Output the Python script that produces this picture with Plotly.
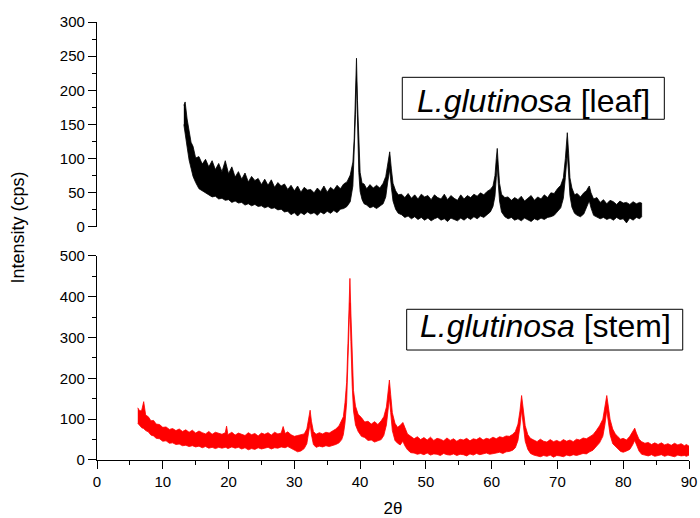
import plotly.graph_objects as go

# ---- L. glutinosa leaf: diffraction band (upper / lower edge of the noisy trace)
leaf_2theta = [13.2, 13.4, 13.7, 14.0, 14.3, 14.6, 15.0, 15.5, 16.0, 16.5, 17.0, 17.5, 18.0, 18.5,
               19.0, 19.5, 20.0, 20.5, 21.0, 21.5, 22.0, 22.5, 23.0, 23.5, 24.0, 24.5, 25.0, 25.5,
               26.0, 26.5, 27.0, 27.5, 28.0, 28.5, 29.0, 29.5, 30.0, 30.5, 31.0, 31.5, 32.0, 32.5,
               33.0, 33.5, 34.0, 34.5, 35.0, 35.5, 36.0, 36.5, 37.0, 37.5, 38.0, 38.5, 38.9, 39.1,
               39.3, 39.45, 39.6, 39.8, 40.0, 40.3, 40.6, 41.0, 41.5, 42.0, 42.5, 43.0, 43.5, 43.9,
               44.2, 44.5, 44.75, 45.0, 45.4, 45.8, 46.3, 46.8, 47.3, 47.8, 48.3, 48.8, 49.3, 49.8,
               50.3, 50.8, 51.3, 51.8, 52.3, 52.8, 53.3, 53.8, 54.3, 54.8, 55.3, 55.8, 56.3, 56.8,
               57.3, 57.8, 58.3, 58.8, 59.3, 59.8, 60.2, 60.5, 60.7, 60.85, 61.0, 61.2, 61.5, 62.0,
               62.5, 63.0, 63.5, 64.0, 64.5, 65.0, 65.5, 66.0, 66.5, 67.0, 67.5, 68.0, 68.5, 69.0,
               69.5, 70.0, 70.5, 70.9, 71.2, 71.5, 71.7, 71.9, 72.2, 72.6, 73.0, 73.5, 74.0, 74.4,
               74.7, 74.85, 75.1, 75.5, 76.0, 76.5, 77.0, 77.5, 78.0, 78.5, 79.0, 79.5, 80.0, 80.5,
               81.0, 81.5, 82.0, 82.5, 82.8]
leaf_high = [178, 183, 158, 141, 124, 118, 101, 103, 92, 99, 88, 97, 84, 93,
             81, 97, 78, 88, 73, 81, 70, 79, 66, 74, 68, 71, 62, 70,
             61, 69, 58, 65, 60, 63, 55, 61, 53, 60, 51, 58, 54, 55,
             50, 57, 52, 60, 51, 58, 54, 61, 56, 63, 66, 76, 95, 130,
             205, 247, 185, 115, 80, 64, 63, 56, 62, 57, 61, 57, 64, 74,
             96, 110, 85, 64, 53, 47, 48, 43, 49, 42, 47, 41, 48, 44,
             46, 40, 47, 43, 41, 48, 40, 46, 42, 39, 47, 41, 46, 43,
             48, 45, 50, 47, 52, 55, 60, 75, 100, 115, 92, 64, 48, 43,
             44, 39, 43, 40, 45, 38, 42, 46, 39, 44, 41, 47, 43, 50,
             49, 56, 61, 72, 100, 138, 108, 72, 57, 47, 49, 44, 50, 53,
             58, 60, 50, 41, 43, 36, 40, 34, 39, 37, 33, 38, 35, 36,
             33, 37, 34, 36, 35]
leaf_low = [150, 136, 117, 98, 86, 74, 65, 56, 53, 49, 47, 44, 45, 41,
            42, 39, 40, 36, 38, 35, 36, 32, 34, 31, 33, 30, 31, 28,
            30, 27, 28, 25, 26, 22, 23, 18, 21, 16, 21, 18, 22, 19,
            21, 17, 22, 19, 23, 20, 24, 21, 26, 27, 30, 37, 60, 95,
            165, 215, 150, 80, 52, 40, 34, 32, 28, 30, 27, 31, 34, 44,
            66, 84, 58, 38, 26, 20, 18, 14, 16, 12, 15, 11, 14, 10,
            13, 9, 12, 14, 10, 12, 8, 13, 11, 9, 13, 10, 14, 11,
            15, 12, 16, 14, 18, 22, 30, 45, 72, 90, 64, 38, 22, 15,
            12, 14, 10, 12, 9, 13, 10, 8, 12, 10, 13, 11, 14, 15,
            17, 22, 28, 42, 72, 108, 78, 46, 29, 20, 17, 15, 19, 27,
            35, 38, 28, 17, 14, 12, 14, 11, 13, 10, 14, 11, 12, 6,
            13, 10, 14, 12, 15]

# ---- L. glutinosa stem
stem_2theta = [6.2, 6.5, 6.8, 7.1, 7.4, 7.8, 8.2, 8.6, 9.0, 9.5, 10.0, 10.5, 11.0, 11.5,
               12.0, 12.5, 13.0, 13.5, 14.0, 14.5, 15.0, 15.5, 16.0, 16.5, 17.0, 17.5, 18.0, 18.5,
               19.0, 19.5, 19.7, 19.9, 20.5, 21.0, 21.5, 22.0, 22.5, 23.0, 23.5, 24.0, 24.5, 25.0,
               25.5, 26.0, 26.5, 27.0, 27.5, 28.0, 28.3, 28.6, 29.0, 29.5, 30.0, 30.5, 31.0, 31.5,
               31.9, 32.2, 32.4, 32.6, 32.9, 33.3, 33.8, 34.3, 34.8, 35.3, 35.8, 36.3, 36.8, 37.2,
               37.45, 37.7, 37.95, 38.15, 38.35, 38.45, 38.6, 38.8, 39.0, 39.3, 39.7, 40.2, 40.7, 41.2,
               41.7, 42.2, 42.7, 43.2, 43.6, 44.0, 44.3, 44.45, 44.65, 44.9, 45.3, 45.7, 46.1, 46.5,
               46.8, 47.2, 47.7, 48.2, 48.7, 49.2, 49.7, 50.2, 50.7, 51.2, 51.7, 52.2, 52.7, 53.2,
               53.7, 54.2, 54.7, 55.2, 55.7, 56.2, 56.7, 57.2, 57.7, 58.2, 58.7, 59.2, 59.7, 60.2,
               60.7, 61.2, 61.7, 62.2, 62.7, 63.2, 63.6, 64.0, 64.3, 64.55, 64.8, 65.1, 65.5, 65.9,
               66.4, 66.9, 67.4, 67.9, 68.4, 68.9, 69.4, 69.9, 70.4, 70.9, 71.4, 71.9, 72.4, 72.9,
               73.4, 73.9, 74.4, 74.9, 75.4, 75.9, 76.4, 76.9, 77.2, 77.5, 77.75, 78.0, 78.4, 78.8,
               79.2, 79.6, 80.0, 80.5, 81.0, 81.4, 81.75, 82.0, 82.4, 82.8, 83.3, 83.8, 84.3, 84.8,
               85.3, 85.8, 86.3, 86.8, 87.3, 87.8, 88.3, 88.8, 89.3, 89.6, 90.0]
stem_high = [128, 120, 122, 143, 110, 106, 96, 97, 88, 87, 80, 81, 75, 77,
             72, 76, 70, 74, 68, 73, 66, 71, 67, 64, 70, 63, 68, 65,
             63, 67, 83, 62, 68, 61, 66, 63, 60, 67, 62, 65, 59, 66,
             63, 67, 61, 68, 64, 66, 82, 65, 69, 62, 58, 60, 62, 64,
             76, 105, 122, 95, 70, 63, 67, 64, 68, 66, 71, 76, 84, 96,
             106, 140, 190, 285, 420, 445, 360, 240, 170, 132, 112, 104, 93, 95,
             88, 94, 87, 96, 106, 130, 178, 196, 160, 116, 90, 80, 85, 92,
             80, 64, 58, 52, 57, 50, 55, 49, 56, 48, 53, 51, 47, 54,
             48, 52, 46, 51, 49, 53, 47, 52, 50, 55, 49, 53, 51, 56,
             52, 57, 55, 59, 58, 63, 70, 88, 120, 158, 125, 84, 62, 53,
             49, 45, 51, 46, 44, 50, 45, 48, 44, 50, 46, 49, 45, 51,
             49, 54, 52, 58, 62, 72, 84, 100, 125, 158, 130, 100, 76, 64,
             57, 51, 53, 49, 58, 68, 78, 66, 51, 45, 41, 43, 38, 42,
             38, 42, 37, 40, 36, 41, 37, 40, 35, 38, 34]
stem_low = [90, 86, 79, 77, 72, 69, 61, 59, 53, 52, 46, 47, 41, 42,
            38, 39, 35, 36, 33, 35, 32, 34, 30, 33, 29, 31, 28, 31,
            29, 31, 30, 28, 32, 29, 31, 27, 30, 25, 28, 26, 30, 27,
            29, 31, 27, 30, 29, 32, 31, 30, 33, 29, 24, 20, 22, 28,
            40, 70, 90, 62, 38, 31, 34, 32, 35, 33, 36, 38, 42, 50,
            62, 90, 140, 225, 345, 385, 290, 180, 120, 86, 70, 58, 55, 48,
            49, 44, 47, 50, 60, 86, 130, 152, 116, 72, 48, 41, 37, 46,
            35, 25, 18, 17, 14, 16, 13, 17, 12, 15, 14, 11, 16, 13,
            12, 15, 11, 14, 13, 10, 15, 12, 16, 13, 15, 17, 14, 16,
            17, 19, 16, 20, 21, 24, 30, 48, 82, 122, 88, 46, 26, 16,
            12, 10, 8, 11, 9, 12, 7, 11, 10, 8, 12, 10, 13, 11,
            14, 16, 15, 20, 24, 32, 42, 58, 85, 122, 92, 62, 40, 32,
            27, 21, 19, 22, 26, 36, 48, 36, 22, 14, 12, 10, 13, 9,
            11, 13, 9, 12, 10, 8, 12, 10, 11, 9, 12]

FONT = "Arial, Liberation Sans, sans-serif"


def band(xs, hi, lo, color, xa, ya):
    """Closed polygon: along the upper edge, then back along the lower edge."""
    return go.Scatter(
        x=list(xs) + list(xs)[::-1],
        y=list(hi) + list(lo)[::-1],
        mode="lines",
        fill="toself",
        fillcolor=color,
        line=dict(color=color, width=0.8),
        xaxis=xa, yaxis=ya,
        hoverinfo="skip",
        showlegend=False,
    )


fig = go.Figure()
fig.add_trace(band(leaf_2theta, leaf_high, leaf_low, "#000000", "x2", "y"))
fig.add_trace(band(stem_2theta, stem_high, stem_low, "#ff0000", "x", "y2"))

axis_common = dict(
    showline=True, linecolor="black", linewidth=1.3,
    ticks="outside", ticklen=8, tickwidth=1.3, tickcolor="black",
    showgrid=False, zeroline=False, automargin=False,
    tickfont=dict(family=FONT, size=15, color="black"),
)

fig.update_layout(
    width=700, height=518,
    margin=dict(l=97, r=11, t=22, b=58),
    paper_bgcolor="white", plot_bgcolor="white",
    showlegend=False,
    xaxis=dict(
        domain=[0, 1], range=[0, 90], anchor="y2",
        tick0=0, dtick=10,
        minor=dict(ticks="outside", ticklen=4, tickwidth=1.3, tickcolor="black", dtick=5),
        title=dict(text="2θ", font=dict(family=FONT, size=17, color="black"), standoff=12),
        **axis_common,
    ),
    xaxis2=dict(domain=[0, 1], range=[0, 90], anchor="y", matches="x", visible=False),
    yaxis=dict(
        domain=[0.532, 1], range=[0, 300], anchor="x2",
        tick0=0, dtick=50,
        minor=dict(ticks="outside", ticklen=4, tickwidth=1.3, tickcolor="black", dtick=25),
        **axis_common,
    ),
    yaxis2=dict(
        domain=[0, 0.4658], range=[0, 500], anchor="x",
        tick0=0, dtick=100,
        minor=dict(ticks="outside", ticklen=4, tickwidth=1.3, tickcolor="black", dtick=50),
        **axis_common,
    ),
)

# shared y title
fig.add_annotation(
    text="Intensity (cps)", textangle=-90,
    xref="paper", yref="paper", x=-0.1334, y=0.531,
    xanchor="center", yanchor="middle", showarrow=False,
    font=dict(family=FONT, size=18, color="black"),
)

# sample labels in framed boxes
labels = [
    ("<i>L.glutinosa</i> [leaf]", (0.5157, 0.7779, 0.9583, 0.8737), (0.7365, 0.8200)),
    ("<i>L.glutinosa</i> [stem]", (0.5231, 0.2511, 0.9894, 0.3441), (0.7583, 0.3066)),
]
for text, (x0, y0, x1, y1), (tx, ty) in labels:
    fig.add_shape(type="rect", xref="paper", yref="paper", x0=x0, y0=y0, x1=x1, y1=y1,
                  line=dict(color="black", width=1), fillcolor="white")
    fig.add_annotation(
        text=text, xref="paper", yref="paper", x=tx, y=ty,
        xanchor="center", yanchor="middle", showarrow=False,
        font=dict(family=FONT, size=32, color="black"),
    )

fig.write_html("out.html")
